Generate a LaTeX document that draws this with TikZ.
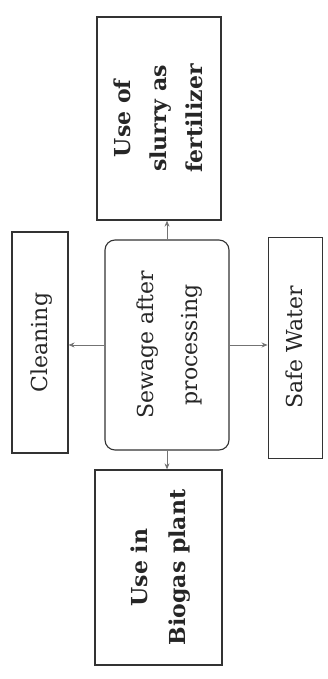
\documentclass[tikz,border=0pt]{standalone}
\usepackage{amsfonts, amssymb, amsmath}
\usepackage{fontspec}
\setmainfont{DejaVu Serif}
\usepackage{tikz}
\usetikzlibrary{arrows.meta}

\newcommand{\uptext}[2][36]{\rotatebox{90}{\fontsize{22}{#1}\selectfont\begin{tabular}{@{}c@{}}#2\end{tabular}}}

\begin{document}
\begin{tikzpicture}[x=1pt, y=1pt,
    box/.style={draw=black!80, line width=1.1pt, inner sep=0pt, text=black!85},
    arr/.style={draw=black!55, line width=0.8pt, -{Stealth[length=6pt, width=5pt]}}]
    \useasboundingbox (0, 0) rectangle (328, 679);
    % centre and the four uses
    \node[box, rounded corners=10pt, minimum width=124, minimum height=210] (sewage) at (167, 334) {\uptext[44]{Sewage after\\processing}};
    \node[box, line width=1.3pt, minimum width=124, minimum height=203] (slurry) at (159, 560.5) {\uptext{\bfseries Use of\\\bfseries slurry as\\\bfseries fertilizer}};
    \node[box, line width=1.3pt, minimum width=127, minimum height=195] (biogas) at (158.5, 111.5) {\uptext[38]{\bfseries Use in\\\bfseries Biogas plant}};
    \node[box, minimum width=56, minimum height=221] (cleaning) at (40, 336.5) {\uptext{Cleaning}};
    \node[box, line width=0.9pt, minimum width=54, minimum height=221] (safe) at (295, 331.5) {\uptext{Safe Water}};

    \draw[arr] (sewage.north) -- (sewage.north |- slurry.south);
    \draw[arr] (sewage.south) -- (sewage.south |- biogas.north);
    \draw[arr] (sewage.west) -- (cleaning.east |- sewage.west);
    \draw[arr] (sewage.east) -- (safe.west |- sewage.east);
\end{tikzpicture}
\end{document}
